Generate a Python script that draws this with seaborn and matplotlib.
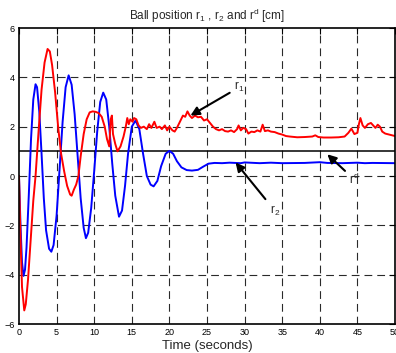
import matplotlib
matplotlib.use('Agg')
import matplotlib.pyplot as plt
import seaborn as sns
import pandas as pd

# r2 (blue)
t_r2 = [0, 0.2, 0.4, 0.6, 0.8, 1.0, 1.3, 1.6, 1.9, 2.2, 2.4, 2.7, 3.0, 3.3, 3.6, 4.0, 4.3,
        4.6, 5.0, 5.4, 5.8, 6.2, 6.6, 7.0, 7.4, 7.8, 8.2, 8.6, 8.9, 9.2, 9.6, 10.0, 10.4,
        10.8, 11.2, 11.6, 12.0, 12.4, 12.8, 13.3, 13.7, 14.1, 14.5, 15.0, 15.5, 16.0, 16.5,
        17.0, 17.5, 17.9, 18.4, 18.9, 19.5, 20.0, 20.5, 21.0, 21.6, 22.3, 23.0, 23.8, 24.5,
        25.2, 26.0, 27.0, 28.0, 29.5, 30.0, 32.0, 33.5, 35.0, 38.0, 40.0, 41.0, 43.0, 45.0,
        46.0, 47.0, 50.0]
r2 = [0, -2.0, -3.5, -4.05, -3.8, -2.9, -0.8, 1.5, 3.1, 3.72, 3.6, 2.6, 0.9, -0.9, -2.2,
      -2.95, -3.07, -2.8, -1.6, 0.3, 2.2, 3.6, 4.08, 3.7, 2.5, 0.8, -0.9, -2.1, -2.52, -2.3,
      -1.3, 0.2, 1.8, 3.0, 3.38, 3.1, 2.0, 0.5, -0.8, -1.65, -1.4, -0.4, 0.9, 2.0, 2.25, 1.9,
      0.9, 0.0, -0.35, -0.42, -0.2, 0.4, 0.9, 1.02, 0.9, 0.6, 0.35, 0.24, 0.22, 0.25, 0.38,
      0.5, 0.53, 0.52, 0.54, 0.52, 0.55, 0.52, 0.54, 0.52, 0.53, 0.56, 0.53, 0.52, 0.54,
      0.52, 0.53, 0.52]

# r1 (red)
t_r1 = [0, 0.2, 0.4, 0.7, 0.9, 1.2, 1.5, 1.9, 2.2, 2.6, 3.0, 3.4, 3.8, 4.1, 4.4, 4.8, 5.2,
        5.6, 6.0, 6.4, 6.8, 7.0, 7.3, 7.6, 7.9, 8.2, 8.6, 9.0, 9.4, 9.8, 10.2, 10.6, 11.0,
        11.4, 11.7, 12.0, 12.2, 12.35, 12.5, 12.8, 13.1, 13.5, 13.9, 14.2, 14.4, 14.6, 14.8,
        15.1, 15.3, 15.6, 15.9, 16.2, 16.6, 17.0, 17.3, 17.6, 18.0, 18.3, 18.7, 19.0, 19.4,
        19.7, 20.0, 20.4, 20.7, 21.0, 21.4, 21.8, 22.1, 22.4, 22.7, 23.0, 23.4, 23.8, 24.2,
        24.6, 25.0, 25.4, 25.8, 26.2, 26.6, 27.0, 27.4, 27.8, 28.2, 28.6, 29.0, 29.2, 29.5,
        29.8, 30.2, 30.5, 30.9, 31.3, 31.7, 32.1, 32.4, 32.7, 33.1, 33.5, 34.0, 34.5, 35.0,
        35.5, 36.0, 37.0, 38.0, 39.0, 39.4, 39.8, 40.5, 41.5, 42.5, 43.3, 43.8, 44.2, 44.6,
        45.0, 45.2, 45.4, 45.7, 46.0, 46.4, 46.8, 47.1, 47.4, 47.7, 48.0, 48.3, 48.7, 49.2,
        49.6, 50.0]
r1 = [0, -2.5, -4.5, -5.45, -5.2, -4.2, -2.8, -1.0, 0, 1.8, 3.5, 4.6, 5.15, 5.05, 4.5, 3.4,
      2.0, 0.9, 0.2, -0.4, -0.75, -0.8, -0.55, -0.35, 0, 0.8, 1.7, 2.3, 2.58, 2.62, 2.6,
      2.55, 2.4, 2.0, 1.5, 1.2, 2.3, 2.45, 1.7, 1.3, 1.0, 1.2, 1.6, 2.0, 2.35, 2.1, 2.3, 2.2,
      2.35, 2.3, 2.05, 1.95, 2.0, 1.9, 2.1, 1.95, 2.2, 1.95, 2.0, 1.9, 2.05, 1.85, 2.0, 1.85,
      1.8, 1.95, 2.2, 2.45, 2.4, 2.62, 2.45, 2.35, 2.45, 2.38, 2.4, 2.25, 2.3, 2.15, 2.0, 1.9,
      1.85, 1.9, 1.82, 1.8, 1.85, 1.78, 1.9, 2.05, 1.85, 1.95, 1.9, 1.72, 1.8, 1.78, 1.85, 1.8,
      2.08, 1.82, 1.85, 1.8, 1.78, 1.72, 1.68, 1.62, 1.6, 1.57, 1.58, 1.6, 1.65, 1.58, 1.56,
      1.56, 1.57, 1.6, 1.75, 1.92, 1.7, 1.75, 2.1, 2.35, 2.05, 1.95, 2.1, 2.15, 2.05, 1.95,
      2.08, 2.0, 1.8, 1.72, 1.68, 1.65, 1.62]

r_desired = 1.0
x_ticks = list(range(0, 55, 5))
y_ticks = list(range(-6, 8, 2))

sns.set_style('white')
plt.rcParams['font.family'] = ['Liberation Sans', 'DejaVu Sans']
plt.rcParams['mathtext.default'] = 'regular'

fig = plt.figure(figsize=(3.96, 3.53), dpi=100)
ax = fig.add_axes([19 / 396, 1 - 324 / 353, 376 / 396, 296 / 353])

# matlab-style dashed grid
for v in x_ticks[1:-1]:
    ax.axvline(v, color='#2a2a2a', lw=0.8, dashes=(7, 4.5), zorder=0)
for v in y_ticks[1:-1]:
    ax.axhline(v, color='#2a2a2a', lw=0.8, dashes=(7, 4.5), zorder=0)

ax.axhline(r_desired, color='black', lw=1.1, zorder=1)
sns.lineplot(x=t_r2, y=r2, ax=ax, color='#0000ff', lw=1.4, sort=False, estimator=None)
sns.lineplot(x=t_r1, y=r1, ax=ax, color='#ff0000', lw=1.4, sort=False, estimator=None)

ax.set_xlim(0, 50)
ax.set_ylim(-6, 6)
ax.set_xticks(x_ticks)
ax.set_yticks(y_ticks)
ax.tick_params(labelsize=6.5, direction='in', length=4, width=0.8,
               top=True, right=True, pad=3, colors='black')
for s in ax.spines.values():
    s.set_color('black')
    s.set_linewidth(1.2)

ax.set_title('Ball position r$_1$ , r$_2$ and r$^d$ [cm]', fontsize=8.5, pad=6)
ax.set_xlabel('Time (seconds)', fontsize=9.5, labelpad=2)
ax.set_ylabel('')

arrow = dict(arrowstyle='-|>', color='black', lw=1.5, mutation_scale=13, shrinkA=1, shrinkB=0)
ax.annotate('r$_1$', xy=(22.8, 2.45), xytext=(29.3, 3.6), fontsize=8.5, arrowprops=arrow,
            ha='center', va='center')
ax.annotate('r$_2$', xy=(28.8, 0.55), xytext=(34.0, -1.4), fontsize=8.5, arrowprops=arrow,
            ha='center', va='center')
ax.annotate('r$^d$', xy=(41.0, 0.88), xytext=(44.6, -0.15), fontsize=8.5, arrowprops=arrow,
            ha='center', va='center')

fig.savefig('out.png', dpi=100)
